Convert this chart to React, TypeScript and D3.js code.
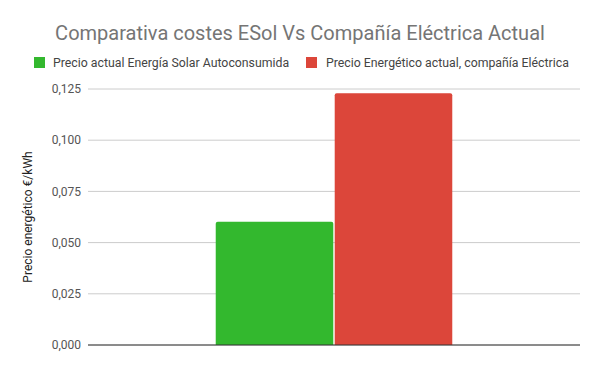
import React, { useEffect } from 'react';
import * as d3 from 'd3';

const categories = [''];
const seriesNames = [
  'Precio actual Energía Solar Autoconsumida',
  'Precio Energético actual, compañía Eléctrica',
];
const seriesColors = ['#33b82e', '#dc463a'];
const solarValues = [0.0602];
const electricValues = [0.1229];
const yTicks = [0, 0.025, 0.05, 0.075, 0.1, 0.125];

const W = 600;
const H = 371;
const margin = { top: 89, right: 20, bottom: 26, left: 88 };

export default function App() {
  useEffect(() => {
    document.body.style.margin = '0';
  }, []);

  const innerW = W - margin.left - margin.right;
  const innerH = H - margin.top - margin.bottom;

  const x0 = d3.scaleBand<string>().domain(categories).range([0, innerW]).paddingInner(0).paddingOuter(0.54);
  const x1 = d3.scaleBand<string>().domain(seriesNames).range([0, x0.bandwidth()]).paddingInner(0.012);
  const y = d3.scaleLinear().domain([0, 0.125]).range([innerH, 0]);
  const fmt = (v: number) => d3.format('.3f')(v).replace('.', ',');

  const series = [solarValues, electricValues];
  const font = 'Roboto, sans-serif';
  const r = 2;

  const barPath = (x: number, yTop: number, w: number, h: number) =>
    `M${x},${yTop + h}V${yTop + r}Q${x},${yTop} ${x + r},${yTop}H${x + w - r}Q${x + w},${yTop} ${x + w},${yTop + r}V${yTop + h}Z`;

  return (
    <svg width={W} height={H} style={{ display: 'block', background: '#fff' }}>
      <text x={W / 2} y={40} textAnchor="middle" fontFamily={font} fontSize={20} fill="#757575">
        Comparativa costes ESol Vs Compañía Eléctrica Actual
      </text>
      <g fontFamily={font} fontSize={12.3} fill="#444">
        <rect x={34} y={57} width={11} height={11} fill={seriesColors[0]} />
        <text x={53} y={66.5}>{seriesNames[0]}</text>
        <rect x={306} y={57} width={11} height={11} fill={seriesColors[1]} />
        <text x={326} y={66.5}>{seriesNames[1]}</text>
      </g>
      <text
        transform={`translate(32,${margin.top + innerH / 2}) rotate(-90)`}
        textAnchor="middle"
        fontFamily={font}
        fontSize={12}
        fill="#222"
      >
        Precio energético €/kWh
      </text>
      <g transform={`translate(${margin.left},${margin.top})`}>
        {yTicks.map((t) => (
          <g key={t}>
            <line x1={0} x2={innerW} y1={y(t)} y2={y(t)} stroke="#ccc" strokeWidth={1} />
            <text x={-7} y={y(t)} dy="0.35em" textAnchor="end" fontFamily={font} fontSize={12} fill="#555">
              {fmt(t)}
            </text>
          </g>
        ))}
        {categories.map((c, ci) =>
          series.map((vals, si) => {
            const bx = (x0(c) ?? 0) + (x1(seriesNames[si]) ?? 0);
            const bw = x1.bandwidth();
            const top = y(vals[ci]);
            return <path key={`${ci}-${si}`} d={barPath(bx, top, bw, innerH - top)} fill={seriesColors[si]} />;
          })
        )}
        <line x1={0} x2={innerW} y1={innerH} y2={innerH} stroke="#333" strokeWidth={1} />
      </g>
    </svg>
  );
}
